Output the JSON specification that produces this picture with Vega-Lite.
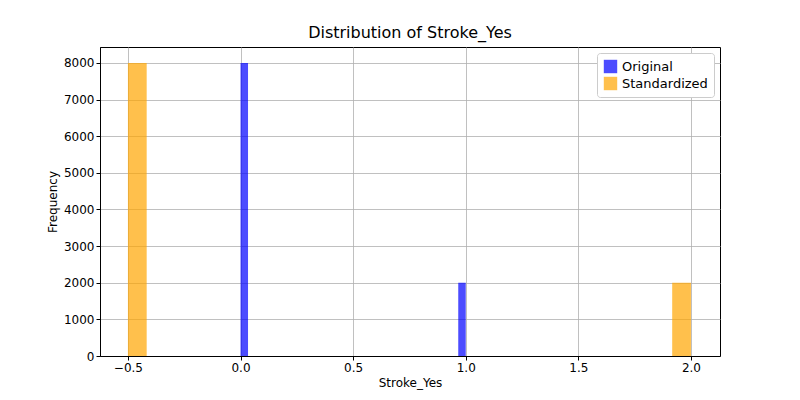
{
  "$schema": "https://vega.github.io/schema/vega-lite/v6.json",
  "autosize": {"type": "none"},
  "padding": {"left": 100, "top": 47, "right": 80, "bottom": 44},
  "width": 620,
  "height": 309,
  "background": "white",
  "title": {"text": "Distribution of Stroke_Yes", "font": "DejaVu Sans", "fontSize": 16, "fontWeight": "normal", "offset": 6},
  "config": {
    "font": "DejaVu Sans",
    "view": {"stroke": "black", "strokeWidth": 1},
    "axis": {"labelFont": "DejaVu Sans", "titleFont": "DejaVu Sans", "labelFontSize": 12, "titleFontSize": 12, "titleFontWeight": "normal", "labelColor": "black", "titleColor": "black", "tickColor": "black", "domainColor": "black", "gridColor": "#b0b0b0", "gridWidth": 0.8, "tickSize": 4}
  },
  "data": {
    "values": [
      {"series": "Original", "start": 0.0, "end": 0.0333, "count": 8000},
      {"series": "Original", "start": 0.9667, "end": 1.0, "count": 2000},
      {"series": "Standardized", "start": -0.5, "end": -0.4167, "count": 8000},
      {"series": "Standardized", "start": 1.9167, "end": 2.0, "count": 2000}
    ]
  },
  "mark": {"type": "bar", "opacity": 0.7},
  "encoding": {
    "x": {"field": "start", "type": "quantitative", "title": "Stroke_Yes",
      "scale": {"domain": [-0.624, 2.129], "nice": false, "zero": false},
      "axis": {"values": [-0.5, 0, 0.5, 1, 1.5, 2], "format": ".1f", "labelFlush": false}},
    "x2": {"field": "end"},
    "y": {"field": "count", "type": "quantitative", "title": "Frequency",
      "scale": {"domain": [0, 8436], "nice": false},
      "axis": {"values": [0, 1000, 2000, 3000, 4000, 5000, 6000, 7000, 8000], "format": "d"}},
    "y2": {"datum": 0},
    "color": {"field": "series", "type": "nominal",
      "scale": {"domain": ["Original", "Standardized"], "range": ["blue", "orange"]},
      "legend": {"title": null, "orient": "top-right", "symbolType": "square", "symbolSize": 180, "symbolOpacity": 0.7, "labelFontSize": 13, "labelFont": "DejaVu Sans", "strokeColor": "#cccccc", "fillColor": "white", "padding": 6, "cornerRadius": 3, "offset": 6}}
  }
}
